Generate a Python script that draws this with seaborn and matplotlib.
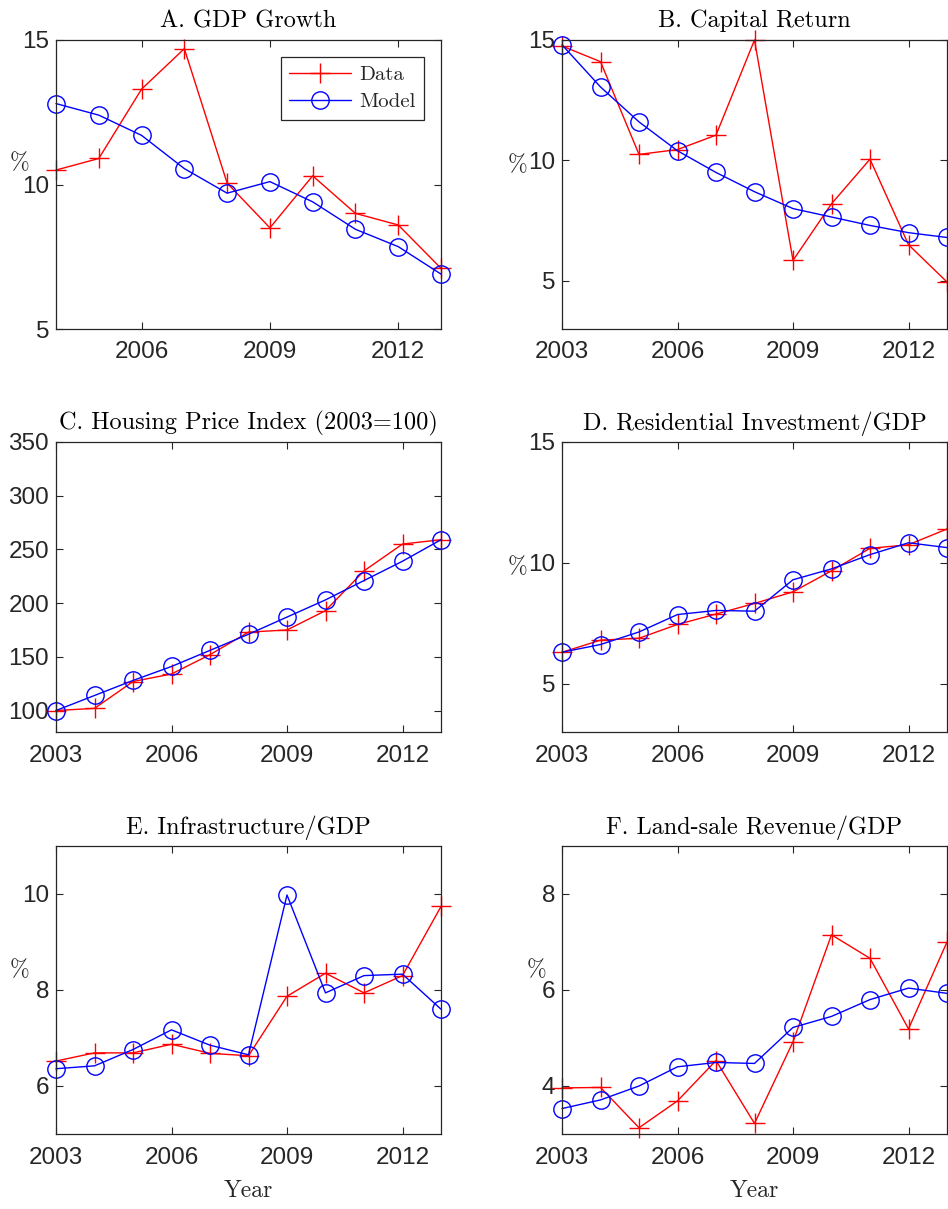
import numpy as np
import pandas as pd
import matplotlib
matplotlib.use("Agg")
import matplotlib.pyplot as plt
import seaborn as sns

# ---------------- data ----------------
years_a = [2004, 2005, 2006, 2007, 2008, 2009, 2010, 2011, 2012, 2013]
years = [2003, 2004, 2005, 2006, 2007, 2008, 2009, 2010, 2011, 2012, 2013]

gdp_data = [10.5, 10.9, 13.3, 14.7, 10.05, 8.5, 10.3, 9.0, 8.6, 7.1]
gdp_model = [12.8, 12.4, 11.7, 10.55, 9.7, 10.1, 9.4, 8.45, 7.85, 6.9]

cap_data = [14.75, 14.1, 10.25, 10.45, 11.05, 15.0, 5.85, 8.2, 10.05, 6.5, 4.95]
cap_model = [14.8, 13.05, 11.6, 10.4, 9.5, 8.7, 8.0, 7.65, 7.3, 7.0, 6.8]

hpi_data = [100, 102, 127, 134, 152, 173, 175, 193, 230, 255, 259]
hpi_model = [100, 114, 128, 141, 156, 171, 187, 203, 221, 239, 259]

res_data = [6.3, 6.8, 6.88, 7.45, 7.88, 8.32, 8.8, 9.67, 10.6, 10.75, 11.4]
res_model = [6.3, 6.62, 7.14, 7.86, 8.03, 8.0, 9.3, 9.75, 10.34, 10.83, 10.63]

inf_data = [6.52, 6.69, 6.69, 6.87, 6.68, 6.63, 7.87, 8.35, 7.94, 8.3, 9.74]
inf_model = [6.36, 6.42, 6.76, 7.17, 6.85, 6.65, 9.98, 7.94, 8.3, 8.33, 7.6]

land_data = [3.96, 3.97, 3.13, 3.69, 4.53, 3.22, 4.92, 7.15, 6.66, 5.19, 7.0]
land_model = [3.53, 3.71, 4.0, 4.4, 4.49, 4.47, 5.22, 5.45, 5.8, 6.04, 5.93]

titles = ["A. GDP Growth", "B. Capital Return", "C. Housing Price Index (2003=100)",
          "D. Residential Investment/GDP", "E. Infrastructure/GDP", "F. Land-sale Revenue/GDP"]
ylabels = ["%", "%", "", "%", "%", "%"]
ylims = [(5, 15), (3, 15), (80, 350), (3, 15), (5, 11), (3, 9)]
yticks = [[5, 10, 15], [5, 10, 15], [100, 150, 200, 250, 300, 350], [5, 10, 15], [6, 8, 10], [4, 6, 8]]
xticks = [2003, 2006, 2009, 2012]
series_names = ["Data", "Model"]

# ---------------- style ----------------
sns.set_theme(style="ticks")
SERIF = ["cmr10", "DejaVu Serif"]
TICKF = ["Liberation Sans", "DejaVu Sans"]
plt.rcParams["font.family"] = TICKF
plt.rcParams["axes.unicode_minus"] = False

fig = plt.figure(figsize=(9.48, 12.09), dpi=100)
W, H = 948, 1209

# axes boxes in pixels (left, top, right, bottom)
boxes = [(56, 40, 441, 329), (562, 40, 947, 329),
         (56, 442, 441, 732), (562, 442, 947, 732),
         (56, 846, 441, 1134), (562, 846, 947, 1134)]

panels = [
    (years_a, gdp_data, gdp_model),
    (years, cap_data, cap_model),
    (years, hpi_data, hpi_model),
    (years, res_data, res_model),
    (years, inf_data, inf_model),
    (years, land_data, land_model),
]

label_pos = [(-0.094, 0.574), (-0.116, 0.567), None, (-0.116, 0.569), (-0.094, 0.569), (-0.065, 0.569)]

for i, (box, (yrs, d, m)) in enumerate(zip(boxes, panels)):
    l, t, r, b = box
    ax = fig.add_axes([l / W, (H - b) / H, (r - l) / W, (b - t) / H])
    df = pd.DataFrame({"year": yrs + yrs,
                       "value": list(d) + list(m),
                       "series": [series_names[0]] * len(yrs) + [series_names[1]] * len(yrs)})
    sns.lineplot(data=df[df.series == "Data"], x="year", y="value", ax=ax,
                 color="#ff0000", marker="+", markersize=14, mec="#ff0000",
                 mew=1.0, lw=1.0, label="Data", clip_on=False)
    sns.lineplot(data=df[df.series == "Model"], x="year", y="value", ax=ax,
                 color="#0000ff", marker="o", markersize=12.5, mec="#0000ff",
                 mfc="none", mew=1.0, lw=1.0, label="Model", clip_on=False)

    ax.set_xlim(yrs[0], yrs[-1])
    ax.set_ylim(*ylims[i])
    ax.set_xticks([x for x in xticks if x >= yrs[0]])
    ax.set_yticks(yticks[i])
    ax.tick_params(direction="in", length=5, width=0.8, top=True, right=True,
                   labelsize=17.5, colors="#262626", pad=5)
    ax.tick_params(axis="x", pad=9)
    for s in ax.spines.values():
        s.set_color("#262626")
        s.set_linewidth(0.9)
    ax.set_title(titles[i], fontsize=17.5, family=SERIF, pad=9, color="black")
    ax.set_xlabel("")
    if ylabels[i]:
        ax.set_ylabel(ylabels[i], rotation=0, fontsize=17, family=SERIF, color="#262626",
                      ha="center", va="center")
        ax.yaxis.set_label_coords(*label_pos[i])
    else:
        ax.set_ylabel("")
    if i >= 4:
        ax.set_xlabel("Year", fontsize=17, family=SERIF, color="#262626", va="top")
        ax.xaxis.set_label_coords(0.5, -0.16)
    if i == 0:
        leg = ax.legend(loc="upper right", bbox_to_anchor=(0.957, 0.94), prop={"family": SERIF, "size": 15},
                        frameon=True, fancybox=False, edgecolor="#262626", framealpha=1,
                        handlelength=3.0, borderpad=0.4, labelspacing=0.4, handletextpad=0.4,
                        borderaxespad=0)
        leg.get_frame().set_linewidth(0.9)
    else:
        lg = ax.get_legend()
        if lg is not None:
            lg.remove()

fig.savefig("out.png", dpi=100)
